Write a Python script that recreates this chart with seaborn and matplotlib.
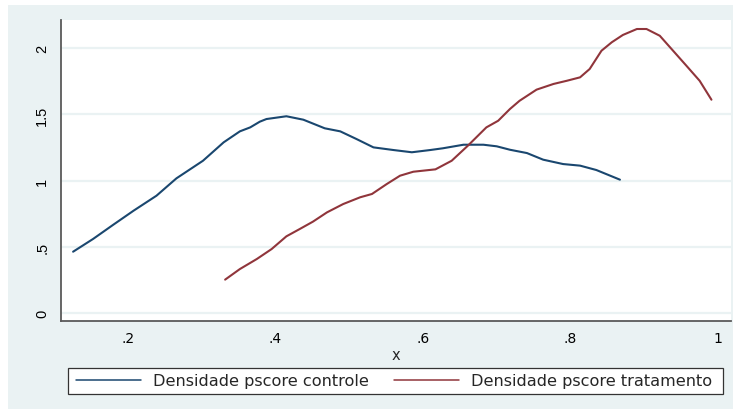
import matplotlib
matplotlib.use("Agg")
import matplotlib.pyplot as plt
from matplotlib.patches import Rectangle
import numpy as np
import pandas as pd
import seaborn as sns

# Kernel density of the propensity score, control group
controle_x = [0.126, 0.153, 0.180, 0.208, 0.239, 0.266, 0.302, 0.330, 0.352, 0.366,
              0.379, 0.388, 0.415, 0.438, 0.467, 0.488, 0.510, 0.533, 0.560, 0.585,
              0.610, 0.627, 0.655, 0.682, 0.700, 0.718, 0.741, 0.763, 0.790, 0.813,
              0.835, 0.867]
controle_y = [0.463, 0.559, 0.665, 0.773, 0.886, 1.017, 1.150, 1.289, 1.372, 1.402,
              1.445, 1.465, 1.486, 1.460, 1.395, 1.372, 1.314, 1.251, 1.231, 1.214,
              1.231, 1.244, 1.271, 1.271, 1.259, 1.233, 1.208, 1.158, 1.125, 1.113,
              1.080, 1.007]

# Kernel density of the propensity score, treatment group
tratamento_x = [0.332, 0.352, 0.375, 0.395, 0.415, 0.433, 0.451, 0.470, 0.492, 0.515,
                0.531, 0.551, 0.569, 0.587, 0.617, 0.639, 0.661, 0.686, 0.702, 0.718,
                0.731, 0.754, 0.777, 0.795, 0.813, 0.826, 0.842, 0.856, 0.871, 0.890,
                0.903, 0.921, 0.939, 0.957, 0.975, 0.991]
tratamento_y = [0.252, 0.332, 0.408, 0.483, 0.579, 0.634, 0.690, 0.760, 0.823, 0.874,
                0.899, 0.974, 1.037, 1.067, 1.085, 1.150, 1.264, 1.402, 1.452, 1.541,
                1.603, 1.687, 1.730, 1.754, 1.780, 1.843, 1.981, 2.045, 2.100, 2.145,
                2.145, 2.094, 1.981, 1.868, 1.754, 1.611]

x_ticks = [0.2, 0.4, 0.6, 0.8, 1.0]
x_tick_labels = [".2", ".4", ".6", ".8", "1"]
y_ticks = [0, 0.5, 1, 1.5, 2]
y_tick_labels = ["0", ".5", "1", "1.5", "2"]

label_controle = "Densidade pscore controle"
label_tratamento = "Densidade pscore tratamento"

df = pd.concat([
    pd.DataFrame({"x": controle_x, "densidade": controle_y, "grupo": label_controle}),
    pd.DataFrame({"x": tratamento_x, "densidade": tratamento_y, "grupo": label_tratamento}),
], ignore_index=True)

sns.set_style("white")
plt.rcParams["font.family"] = ["Liberation Sans", "DejaVu Sans"]
WIDE = ["DejaVu Sans"]

BG = "#eaf2f3"
AXIS = "#5a5a5a"
W, H = 740, 410

fig = plt.figure(figsize=(7.4, 4.1), dpi=100, facecolor="white")
# graph region background
fig.patches.append(Rectangle((8 / W, 0), 725 / W, 404 / H,
                             transform=fig.transFigure, facecolor=BG,
                             edgecolor="none", zorder=-10))
# legend box
fig.patches.append(Rectangle((68 / W, 15 / H), 655 / W, 26 / H,
                             transform=fig.transFigure, facecolor="white",
                             edgecolor="#333333", linewidth=0.9, zorder=1))

ax = fig.add_axes([61 / W, 88 / H, 670 / W, 301 / H])
ax.set_facecolor("white")

sns.lineplot(data=df, x="x", y="densidade", hue="grupo",
             palette={label_controle: "#1a476f", label_tratamento: "#90353b"},
             linewidth=1.5, sort=False, estimator=None, ax=ax)

ax.set_xlim(0.1096, 1.0175)
ax.set_ylim(-0.0604, 2.213)

ax.set_xticks(x_ticks)
ax.set_xticklabels(x_tick_labels, family=WIDE, fontsize=10)
ax.set_yticks(y_ticks)
ax.set_yticklabels(y_tick_labels, rotation=90, va="center", fontsize=10.5)

ax.grid(axis="y", color=BG, linewidth=1.6)
ax.grid(axis="x", visible=False)
ax.set_axisbelow(True)

for side in ("top", "right"):
    ax.spines[side].set_visible(False)
for side in ("left", "bottom"):
    ax.spines[side].set_color(AXIS)
    ax.spines[side].set_linewidth(1.3)

ax.tick_params(axis="both", which="major", direction="out", length=4.5, width=1.1,
               color=AXIS, labelcolor="black", pad=3)
ax.tick_params(axis="y", pad=4)

ax.set_xlabel("x", fontsize=10.5, family=WIDE, labelpad=1)
ax.set_ylabel("")

handles, labels = ax.get_legend_handles_labels()
ax.get_legend().remove()
leg = fig.legend(handles, labels, ncol=2, mode="expand",
                 loc="center left",
                 bbox_to_anchor=(76 / W, 15 / H, 636 / W, 26 / H),
                 bbox_transform=fig.transFigure,
                 frameon=False,
                 prop={"family": WIDE, "size": 11.6},
                 handlelength=4.05, handletextpad=0.72,
                 borderpad=0, borderaxespad=0, columnspacing=1.5)
leg.set_zorder(5)
for line in leg.get_lines():
    line.set_linewidth(1.1)

fig.savefig("out.png", dpi=100, facecolor=fig.get_facecolor())
